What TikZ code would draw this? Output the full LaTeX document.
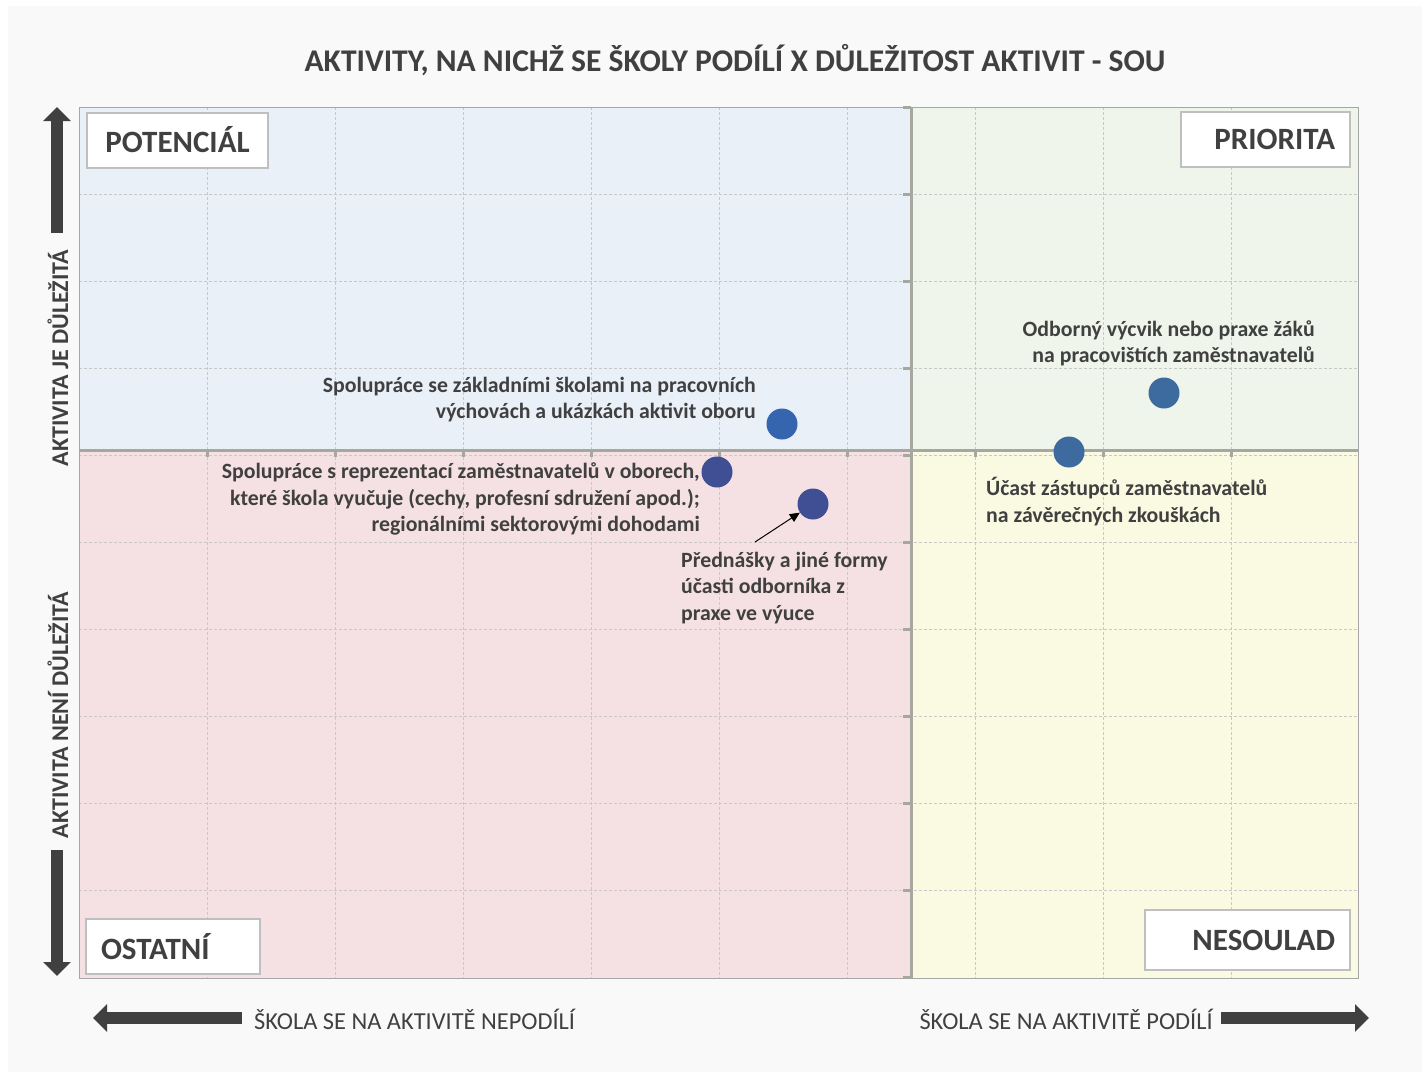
\documentclass[tikz,border=0pt]{standalone}
\usepackage{fontspec}
\setmainfont{Carlito}
\usetikzlibrary{arrows.meta}

\definecolor{panel}{RGB}{249,249,249}
\definecolor{potbg}{RGB}{233,240,248}
\definecolor{pribg}{RGB}{239,245,234}
\definecolor{ostbg}{RGB}{245,225,227}
\definecolor{nesbg}{RGB}{250,250,226}
\definecolor{gridgray}{RGB}{200,200,200}
\definecolor{axisgray}{RGB}{166,168,160}
\definecolor{boxgray}{RGB}{191,191,191}
\definecolor{darktext}{RGB}{64,64,64}
\definecolor{dotblue}{RGB}{53,101,174}
\definecolor{dotnavy}{RGB}{64,78,148}
\definecolor{dotsteel}{RGB}{61,106,159}

\begin{document}
\begin{tikzpicture}[x=1pt,y=-1pt]

\def\xmin{79}
\def\xmax{1358}
\def\ymin{107}
\def\ymax{978}
\def\xaxis{911}
\def\yaxis{450}

\tikzstyle{quadrant}=[draw=boxgray,line width=2pt,fill=white,minimum height=55pt,inner xsep=15pt,inner ysep=0pt,text=darktext,font=\fontsize{31}{31}\selectfont\bfseries]
\tikzstyle{dot}=[circle,minimum size=31pt,inner sep=0pt]
\tikzstyle{pointtext}=[inner sep=0pt,text=darktext,font=\fontsize{21.8}{26.5}\selectfont\bfseries]
\tikzstyle{axistext}=[inner sep=0pt,text=darktext,font=\fontsize{24}{24}\selectfont\bfseries]
\tikzstyle{sharetext}=[inner sep=0pt,text=darktext,font=\fontsize{24.4}{24}\selectfont]
\tikzstyle{bigarrow}=[draw=darktext,line width=12pt,-{Triangle[length=14pt,width=27pt]}]
\tikzstyle{gridline}=[gridgray,line width=0.8pt,dash pattern=on 3pt off 2pt]
\tikzstyle{axis}=[axisgray,line width=3pt]

\useasboundingbox (0,0) rectangle (1427,1076);
\fill[white] (0,0) rectangle (1427,1076);
\fill[panel] (8,6) rectangle (1422,1072);

%quadrants
\fill[potbg] (\xmin,\ymin) rectangle (\xaxis,\yaxis);
\fill[pribg] (\xaxis,\ymin) rectangle (\xmax,\yaxis);
\fill[ostbg] (\xmin,\yaxis) rectangle (\xaxis,\ymax);
\fill[nesbg] (\xaxis,\yaxis) rectangle (\xmax,\ymax);

%grid
\foreach \x in {207,335,...,847,975,1103,1231}
  \draw[gridline] (\x,\ymin) -- (\x,\ymax);
\foreach \y in {194,281,...,890}
  \draw[gridline] (\xmin,\y) -- (\xmax,\y);
\draw[gray!70,line width=0.8pt] (\xmin,\ymin) rectangle (\xmax,\ymax);

%axes
\draw[axis] (\xaxis,\ymin) -- (\xaxis,\ymax);
\draw[axis] (\xmin,\yaxis) -- (\xmax,\yaxis);
\foreach \y in {107,194,...,977}
  \draw[axis] (903,\y) -- (\xaxis,\y);
\foreach \x in {207,335,...,1231}
  \draw[axis] (\x,\yaxis) -- (\x,457);

%title
\node[text=darktext,font=\fontsize{31.6}{31.6}\selectfont\bfseries] (title) at (735,60) {AKTIVITY, NA NICHŽ SE ŠKOLY PODÍLÍ X DŮLEŽITOST AKTIVIT - SOU};

%quadrant labels
\node[quadrant,text width=151pt,align=center] (potencial) at (177.5,140) {POTENCIÁL};
\node[quadrant,text width=139pt,align=right] (priorita) at (1265.5,139) {PRIORITA};
\node[quadrant,text width=144pt,align=left] (ostatni) at (173,946.5) {OSTATNÍ};
\node[quadrant,text width=175pt,align=right,minimum height=60pt] (nesoulad) at (1247.5,940) {NESOULAD};

%axis labels
\node[axistext,rotate=90] (important) at (58,358) {AKTIVITA JE DŮLEŽITÁ};
\node[axistext,rotate=90] (notimportant) at (58,715) {AKTIVITA NENÍ DŮLEŽITÁ};
\node[sharetext,anchor=west] (noshare) at (254,1019) {ŠKOLA SE NA AKTIVITĚ NEPODÍLÍ};
\node[sharetext,anchor=east] (share) at (1213,1019) {ŠKOLA SE NA AKTIVITĚ PODÍLÍ};

\coordinate (uptail) at (57,233);
\coordinate (uptip) at (57,107);
\coordinate (downtail) at (57,850);
\coordinate (downtip) at (57,976);
\coordinate (lefttail) at (242,1018);
\coordinate (lefttip) at (93,1018);
\coordinate (righttail) at (1221,1018);
\coordinate (righttip) at (1369,1018);
\draw[bigarrow] (uptail) -- (uptip);
\draw[bigarrow] (downtail) -- (downtip);
\draw[bigarrow] (lefttail) -- (lefttip);
\draw[bigarrow] (righttail) -- (righttip);

%activities
\node[dot,fill=dotblue] (zakladni) at (782,424) {};
\node[dot,fill=dotnavy] (reprezentace) at (717,472) {};
\node[dot,fill=dotnavy] (prednasky) at (813,504) {};
\node[dot,fill=dotsteel] (vycvik) at (1164,393) {};
\node[dot,fill=dotsteel] (zkousky) at (1069,452) {};

\node[pointtext,anchor=east,align=right] (zakladnitext) at (756,399.5) {Spolupráce se základními školami na pracovních\\výchovách a ukázkách aktivit oboru};
\node[pointtext,anchor=east,align=right] (reprezentacetext) at (700,499) {Spolupráce s reprezentací zaměstnavatelů v oborech,\\které škola vyučuje (cechy, profesní sdružení apod.);\\regionálními sektorovými dohodami};
\node[pointtext,anchor=west,align=left] (prednaskytext) at (681,588) {Přednášky a jiné formy\\účasti odborníka z\\praxe ve výuce};
\node[pointtext,anchor=east,align=right] (vycviktext) at (1315,343.5) {Odborný výcvik nebo praxe žáků\\na pracovištích zaměstnavatelů};
\node[pointtext,anchor=west,align=left] (zkouskytext) at (986,501.5) {Účast zástupců zaměstnavatelů\\na závěrečných zkouškách};

\coordinate (pointer) at (755,542);
\draw[-{Triangle[length=10pt,width=9pt]},line width=1pt] (pointer) -- (prednasky);

\end{tikzpicture}
\end{document}
